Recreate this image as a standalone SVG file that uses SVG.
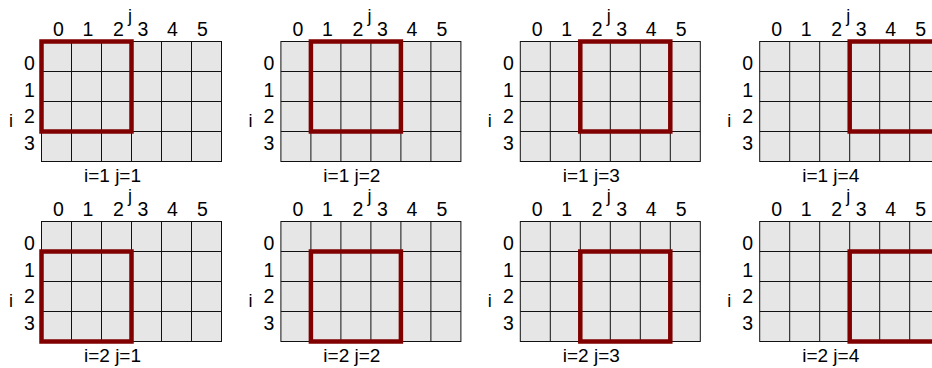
<svg xmlns="http://www.w3.org/2000/svg" xmlns:xlink="http://www.w3.org/1999/xlink" width="932" height="368" viewBox="0 0 932 368">
<style>
text{font-family:"Liberation Sans",Arial,sans-serif;fill:#000;text-anchor:middle}
.d{font-size:19.5px}
.ax{font-size:18px}
.lab{font-size:19px}
.grid-bg{fill:#e6e6e6;stroke:#111;stroke-width:1}
.gl{stroke:#111;stroke-width:1;fill:none}
.win{fill:none;stroke:#800000;stroke-width:4.5}
</style>
<defs>
<g id="grid">
<rect class="grid-bg" x="0" y="0" width="180" height="120"/>
<path class="gl" d="M30 0V120M60 0V120M90 0V120M120 0V120M150 0V120M0 30H180M0 60H180M0 90H180"/>
</g>
</defs>
<rect width="932" height="368" fill="#fff"/>

<g id="panel-i1-j1" transform="translate(41.5,41.5)">
<use xlink:href="#grid" href="#grid"/>
<text class="d" x="17" y="-6">0</text><text class="d" x="46.5" y="-6">1</text><text class="d" x="77" y="-6">2</text><text class="d" x="101.5" y="-6">3</text><text class="d" x="131" y="-6">4</text><text class="d" x="161" y="-6">5</text>
<text class="ax" x="88.5" y="-19.5">j</text>
<text class="d" x="-12" y="28.5">0</text><text class="d" x="-12" y="55">1</text><text class="d" x="-12" y="81.5">2</text><text class="d" x="-12" y="108">3</text>
<text class="ax" x="-30.5" y="85">i</text>
<text class="lab" x="71" y="140">i=1 j=1</text>
<rect class="win" x="0" y="0" width="90" height="90"/>
</g>

<g id="panel-i1-j2" transform="translate(280.9,41.5)">
<use xlink:href="#grid" href="#grid"/>
<text class="d" x="17" y="-6">0</text><text class="d" x="46.5" y="-6">1</text><text class="d" x="77" y="-6">2</text><text class="d" x="101.5" y="-6">3</text><text class="d" x="131" y="-6">4</text><text class="d" x="161" y="-6">5</text>
<text class="ax" x="88.5" y="-19.5">j</text>
<text class="d" x="-12" y="28.5">0</text><text class="d" x="-12" y="55">1</text><text class="d" x="-12" y="81.5">2</text><text class="d" x="-12" y="108">3</text>
<text class="ax" x="-30.5" y="85">i</text>
<text class="lab" x="71" y="140">i=1 j=2</text>
<rect class="win" x="30" y="0" width="90" height="90"/>
</g>

<g id="panel-i1-j3" transform="translate(520.3,41.5)">
<use xlink:href="#grid" href="#grid"/>
<text class="d" x="17" y="-6">0</text><text class="d" x="46.5" y="-6">1</text><text class="d" x="77" y="-6">2</text><text class="d" x="101.5" y="-6">3</text><text class="d" x="131" y="-6">4</text><text class="d" x="161" y="-6">5</text>
<text class="ax" x="88.5" y="-19.5">j</text>
<text class="d" x="-12" y="28.5">0</text><text class="d" x="-12" y="55">1</text><text class="d" x="-12" y="81.5">2</text><text class="d" x="-12" y="108">3</text>
<text class="ax" x="-30.5" y="85">i</text>
<text class="lab" x="71" y="140">i=1 j=3</text>
<rect class="win" x="60" y="0" width="90" height="90"/>
</g>

<g id="panel-i1-j4" transform="translate(759.7,41.5)">
<use xlink:href="#grid" href="#grid"/>
<text class="d" x="17" y="-6">0</text><text class="d" x="46.5" y="-6">1</text><text class="d" x="77" y="-6">2</text><text class="d" x="101.5" y="-6">3</text><text class="d" x="131" y="-6">4</text><text class="d" x="161" y="-6">5</text>
<text class="ax" x="88.5" y="-19.5">j</text>
<text class="d" x="-12" y="28.5">0</text><text class="d" x="-12" y="55">1</text><text class="d" x="-12" y="81.5">2</text><text class="d" x="-12" y="108">3</text>
<text class="ax" x="-30.5" y="85">i</text>
<text class="lab" x="71" y="140">i=1 j=4</text>
<rect class="win" x="90" y="0" width="90" height="90"/>
</g>

<g id="panel-i2-j1" transform="translate(41.5,221.5)">
<use xlink:href="#grid" href="#grid"/>
<text class="d" x="17" y="-6">0</text><text class="d" x="46.5" y="-6">1</text><text class="d" x="77" y="-6">2</text><text class="d" x="101.5" y="-6">3</text><text class="d" x="131" y="-6">4</text><text class="d" x="161" y="-6">5</text>
<text class="ax" x="88.5" y="-19.5">j</text>
<text class="d" x="-12" y="28.5">0</text><text class="d" x="-12" y="55">1</text><text class="d" x="-12" y="81.5">2</text><text class="d" x="-12" y="108">3</text>
<text class="ax" x="-30.5" y="85">i</text>
<text class="lab" x="71" y="140">i=2 j=1</text>
<rect class="win" x="0" y="30" width="90" height="90"/>
</g>

<g id="panel-i2-j2" transform="translate(280.9,221.5)">
<use xlink:href="#grid" href="#grid"/>
<text class="d" x="17" y="-6">0</text><text class="d" x="46.5" y="-6">1</text><text class="d" x="77" y="-6">2</text><text class="d" x="101.5" y="-6">3</text><text class="d" x="131" y="-6">4</text><text class="d" x="161" y="-6">5</text>
<text class="ax" x="88.5" y="-19.5">j</text>
<text class="d" x="-12" y="28.5">0</text><text class="d" x="-12" y="55">1</text><text class="d" x="-12" y="81.5">2</text><text class="d" x="-12" y="108">3</text>
<text class="ax" x="-30.5" y="85">i</text>
<text class="lab" x="71" y="140">i=2 j=2</text>
<rect class="win" x="30" y="30" width="90" height="90"/>
</g>

<g id="panel-i2-j3" transform="translate(520.3,221.5)">
<use xlink:href="#grid" href="#grid"/>
<text class="d" x="17" y="-6">0</text><text class="d" x="46.5" y="-6">1</text><text class="d" x="77" y="-6">2</text><text class="d" x="101.5" y="-6">3</text><text class="d" x="131" y="-6">4</text><text class="d" x="161" y="-6">5</text>
<text class="ax" x="88.5" y="-19.5">j</text>
<text class="d" x="-12" y="28.5">0</text><text class="d" x="-12" y="55">1</text><text class="d" x="-12" y="81.5">2</text><text class="d" x="-12" y="108">3</text>
<text class="ax" x="-30.5" y="85">i</text>
<text class="lab" x="71" y="140">i=2 j=3</text>
<rect class="win" x="60" y="30" width="90" height="90"/>
</g>

<g id="panel-i2-j4" transform="translate(759.7,221.5)">
<use xlink:href="#grid" href="#grid"/>
<text class="d" x="17" y="-6">0</text><text class="d" x="46.5" y="-6">1</text><text class="d" x="77" y="-6">2</text><text class="d" x="101.5" y="-6">3</text><text class="d" x="131" y="-6">4</text><text class="d" x="161" y="-6">5</text>
<text class="ax" x="88.5" y="-19.5">j</text>
<text class="d" x="-12" y="28.5">0</text><text class="d" x="-12" y="55">1</text><text class="d" x="-12" y="81.5">2</text><text class="d" x="-12" y="108">3</text>
<text class="ax" x="-30.5" y="85">i</text>
<text class="lab" x="71" y="140">i=2 j=4</text>
<rect class="win" x="90" y="30" width="90" height="90"/>
</g>

<g id="connectors"></g>
</svg>
